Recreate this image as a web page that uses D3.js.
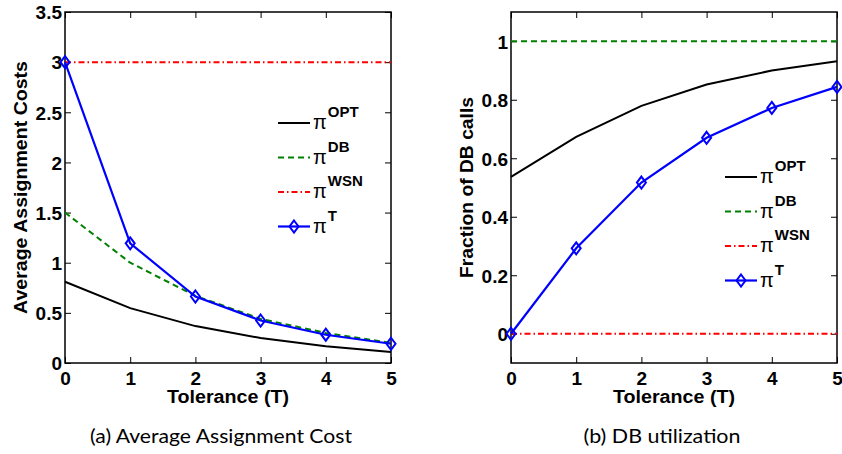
<!DOCTYPE html>
<html>
<head>
<meta charset="utf-8">
<script src="https://cdn.jsdelivr.net/npm/d3@7"></script>
<style>
  body { margin: 0; background: #fff; }
  svg { display: block; }
</style>
</head>
<body>
<svg id="chart" width="842" height="454"></svg>
<script>
// tolerance values on the x axis
var tolerance = [0, 1, 2, 3, 4, 5];

// (a) average assignment cost
var costOpt = [0.81, 0.547, 0.368, 0.249, 0.166, 0.109];
var costDb  = [1.5, 1.0, 0.67, 0.44, 0.30, 0.20];
var costWsn = [3, 3, 3, 3, 3, 3];
var costT   = [3.0, 1.193, 0.663, 0.424, 0.282, 0.192];

// (b) fraction of DB calls
var fracOpt = [0.536, 0.673, 0.779, 0.852, 0.90, 0.932];
var fracDb  = [1, 1, 1, 1, 1, 1];
var fracWsn = [0, 0, 0, 0, 0, 0];
var fracT   = [0, 0.292, 0.517, 0.670, 0.772, 0.844];

var costTicks = [0, 0.5, 1, 1.5, 2, 2.5, 3, 3.5];
var fracTicks = [0, 0.2, 0.4, 0.6, 0.8, 1];

var seriesNames = ["OPT", "DB", "WSN", "T"];
var seriesStyle = {
    OPT: { color: "#000", width: 2, dash: null, marker: false },
    DB:  { color: "#008000", width: 2, dash: "6,4", marker: false },
    WSN: { color: "#ff0000", width: 2, dash: "6,3,1.5,3", marker: false },
    T:   { color: "#0000ff", width: 2.2, dash: null, marker: true }
};

var svg = d3.select("#chart");
var bodyFont = '"Liberation Sans", Arimo, Arial, Helvetica, sans-serif';

function diamond(g, x, y, col) {
    g.append("path")
        .attr("d", "M" + x + "," + (y - 6) + "L" + (x + 4.5) + "," + y + "L" + x + "," + (y + 6) + "L" + (x - 4.5) + "," + y + "Z")
        .attr("fill", "none")
        .attr("stroke", col)
        .attr("stroke-width", 2);
}

function tickText(s) {
    s.selectAll(".tick text")
        .style("font-family", bodyFont)
        .style("font-weight", "bold")
        .style("font-size", "19px")
        .attr("fill", "#000");
}

function drawPanel(cfg) {
    var x = d3.scaleLinear().domain([0, 5]).range([cfg.left, cfg.right]);
    var y = d3.scaleLinear().domain(cfg.yDomain).range([cfg.bottom, cfg.top]);
    var g = svg.append("g");

    // axes with inward ticks on all four sides
    g.append("g").attr("transform", "translate(0," + cfg.bottom + ")")
        .call(d3.axisBottom(x).tickValues(tolerance).tickSize(-6).tickFormat(d3.format("d")))
        .call(function(s) {
            s.select(".domain").remove();
            tickText(s);
            s.selectAll(".tick text").attr("y", 22).attr("dy", null);
        });
    g.append("g").attr("transform", "translate(0," + cfg.top + ")")
        .call(d3.axisTop(x).tickValues(tolerance).tickSize(-6).tickFormat(""))
        .call(function(s) { s.select(".domain").remove(); });
    g.append("g").attr("transform", "translate(" + cfg.left + ",0)")
        .call(d3.axisLeft(y).tickValues(cfg.ticks).tickSize(-6).tickPadding(3).tickFormat(d3.format("")))
        .call(function(s) {
            s.select(".domain").remove();
            tickText(s);
            s.selectAll(".tick text").attr("dy", "0.36em");
        });
    g.append("g").attr("transform", "translate(" + cfg.right + ",0)")
        .call(d3.axisRight(y).tickValues(cfg.ticks).tickSize(-6).tickFormat(""))
        .call(function(s) { s.select(".domain").remove(); });

    g.append("rect")
        .attr("x", cfg.left).attr("y", cfg.top)
        .attr("width", cfg.right - cfg.left).attr("height", cfg.bottom - cfg.top)
        .attr("fill", "none").attr("stroke", "#000").attr("stroke-width", 1.5);

    // series
    var line = d3.line().x(function(d, i) { return x(tolerance[i]); }).y(function(d) { return y(d); });
    cfg.series.forEach(function(vals, k) {
        var st = seriesStyle[seriesNames[k]];
        g.append("path").datum(vals)
            .attr("d", line)
            .attr("fill", "none")
            .attr("stroke", st.color)
            .attr("stroke-width", st.width)
            .attr("stroke-dasharray", st.dash);
        if (st.marker) {
            vals.forEach(function(v, i) { diamond(g, x(tolerance[i]), y(v), st.color); });
        }
    });

    // axis labels
    g.append("text")
        .attr("x", (cfg.left + cfg.right) / 2).attr("y", 403)
        .attr("text-anchor", "middle")
        .attr("textLength", 122).attr("lengthAdjust", "spacingAndGlyphs")
        .style("font-family", bodyFont)
        .style("font-weight", "bold").style("font-size", "18px")
        .text("Tolerance (T)");
    g.append("text")
        .attr("transform", "translate(" + cfg.ylabelX + "," + ((cfg.top + cfg.bottom) / 2) + ") rotate(-90)")
        .attr("text-anchor", "middle")
        .attr("textLength", cfg.ylabelW).attr("lengthAdjust", "spacingAndGlyphs")
        .style("font-family", bodyFont)
        .style("font-weight", "bold").style("font-size", "19px")
        .text(cfg.ylabel);

    // caption
    g.append("text")
        .attr("x", cfg.captionX).attr("y", 443)
        .attr("text-anchor", "middle")
        .attr("textLength", cfg.captionW).attr("lengthAdjust", "spacingAndGlyphs")
        .style("font-family", 'Lato, "Open Sans", sans-serif')
        .style("font-size", "19px")
        .text(cfg.caption);

    // legend
    seriesNames.forEach(function(name, k) {
        var st = seriesStyle[name];
        var ly = cfg.legendY + k * 34.5;
        g.append("line")
            .attr("x1", cfg.legendX).attr("x2", cfg.legendX + 32)
            .attr("y1", ly).attr("y2", ly)
            .attr("stroke", st.color).attr("stroke-width", st.width)
            .attr("stroke-dasharray", st.dash);
        if (st.marker) diamond(g, cfg.legendX + 16, ly, st.color);
        var t = g.append("text")
            .attr("x", cfg.legendX + 35).attr("y", ly + 6)
            .style("font-family", bodyFont).style("font-size", "20px");
        t.append("tspan").text("π");
        t.append("tspan").attr("dy", -12).attr("dx", 1)
            .style("font-weight", "bold").style("font-size", "15px").text(name);
    });
}

drawPanel({
    left: 65, right: 391, top: 12, bottom: 363,
    yDomain: [0, 3.5], ticks: costTicks,
    series: [costOpt, costDb, costWsn, costT],
    ylabel: "Average Assignment Costs", ylabelX: 27, ylabelW: 253,
    caption: "(a)  Average Assignment Cost", captionX: 221, captionW: 262,
    legendX: 278, legendY: 123
});

drawPanel({
    left: 511, right: 837, top: 12, bottom: 363,
    yDomain: [-0.1, 1.1], ticks: fracTicks,
    series: [fracOpt, fracDb, fracWsn, fracT],
    ylabel: "Fraction of DB calls", ylabelX: 473, ylabelW: 181,
    caption: "(b)  DB utilization", captionX: 662, captionW: 157,
    legendX: 725, legendY: 177
});
</script>
</body>
</html>
